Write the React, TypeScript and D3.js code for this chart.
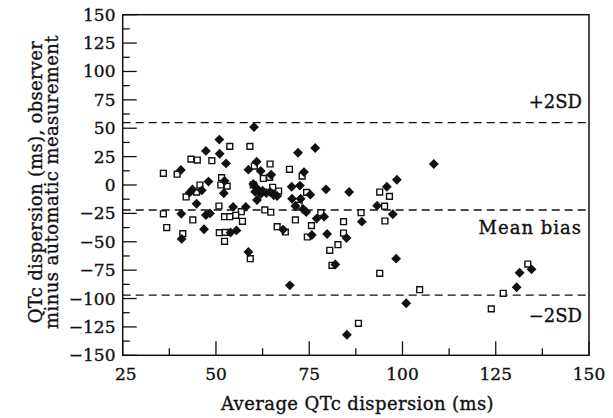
import React from "react";
import * as d3 from "d3";

// Filled diamonds: [average QTc dispersion, difference]
const diamondX = [60.2, 50.9, 47.3, 51, 52.7, 40.6, 58.7, 60.9, 62, 72, 76.6, 73.6, 48, 52.3, 43.7, 46.2, 43, 52.1, 44.8, 54.6, 58, 40.7, 47.3, 48.4, 46.8, 53.9, 55.5, 40.8, 58.7, 60, 61, 62.5, 63.5, 62, 64.5, 65.5, 60.5, 61, 66.4, 70.3, 72.5, 79.5, 85.7, 75.3, 70.4, 72.7, 71.3, 73.4, 74.2, 77, 79, 68, 75.7, 79.8, 85, 82, 69.8, 89.1, 93.2, 97.4, 95.8, 98.5, 108.4, 98.3, 101, 85.1, 130.6, 131.4, 134.6, 64.8];
const diamondY = [51, 40, 30, 27.5, 19, 13.2, 13.5, 20.5, 12.3, 28.4, 32.6, 11.4, 3, 3.5, -4, -4.7, -6.5, -7.3, -16.5, -19.3, -19.3, -25.4, -26.4, -25, -39, -41.8, -40, -47.5, -59, 0.9, -3, -5, -7, -8, -6, -9, -6, -13.2, -9.7, -1.5, -0.5, -3.8, -6.2, -8.5, -12.1, -12.1, -18.5, -21.4, -23.8, -29.6, -27.9, -39.3, -44, -43.2, -46.7, -70, -88.4, -32.3, -18.2, -25.8, -1.5, 4.6, 18.5, -64.9, -104.2, -131.9, -90.1, -77.3, -74.3, 9];

// Open squares
const squareX = [53.7, 59.1, 43.3, 45, 48.9, 35.9, 39.6, 51.5, 45.7, 51.3, 53, 42, 50.8, 56.8, 35.9, 43.8, 52.3, 53.7, 55.3, 36.8, 41.1, 50.9, 52.5, 52.3, 57.1, 59.2, 60.3, 64.5, 69.7, 73.1, 62.7, 64.4, 60, 65.2, 66.8, 74.3, 63.1, 64.7, 72.3, 78.1, 71.3, 75.6, 66.4, 68.6, 74.5, 84.2, 84.2, 82.7, 80.5, 81.1, 88.9, 93.9, 96.5, 95.2, 95.3, 93.9, 88.2, 104.6, 123.8, 127, 133.6, 44.8];
const squareY = [34, 34, 22.8, 22, 21.4, 10.3, 9.5, 6.5, 0, 0, -1, -10.5, -18.5, -23.5, -25.4, -30.8, -27.9, -27.9, -26.7, -37.5, -42.8, -42, -41.7, -49.6, -32, -64.9, 16.7, 18.5, 13.8, 7.9, 5.8, 6.8, 0.2, -2, -5.3, -6.5, -22, -24, -17.8, -24.4, -30.8, -35.8, -36.7, -41.4, -45.8, -32.3, -42.3, -52.6, -57.5, -70.7, -24.4, -6.2, -10, -18.7, -31.7, -77.8, -121.8, -92.2, -109.1, -95.4, -69.6, -6.2];

// Reference lines
const refValues = [55, -22, -97];
const refLabels = ["+2SD", "Mean bias", "\u22122SD"];

const xTicks = [25, 50, 75, 100, 125, 150];
const yTicks = [150, 125, 100, 75, 50, 25, 0, -25, -50, -75, -100, -125, -150];

const xLabel = "Average QTc dispersion (ms)";
const yLabelLines = ["QTc dispersion (ms), observer", "minus automatic measurement"];

const W = 613;
const H = 418;
const FONT = "'DejaVu Serif', 'Liberation Serif', serif";
const INK = "#111";
const TS = 0.35; // text stroke to mimic the heavier print

export default function App() {
  const x = d3.scaleLinear().domain([25, 150]).range([122.7, 589]);
  const y = d3.scaleLinear().domain([-150, 150]).range([355.3, 14.7]);
  const [x0, x1] = x.range();
  const [y0, y1] = [y(-150), y(150)];

  const diamondType: any = (d3 as any).symbolDiamond2 || d3.symbolDiamond;
  const diamondPath = d3.symbol().type(diamondType).size(62)() as string;
  const squarePath = d3.symbol().type(d3.symbolSquare).size(34)() as string;

  const fmt = (v: number) => (v < 0 ? "\u2212" + Math.abs(v) : String(v));

  const xMinor = d3.range(25, 150.01, 12.5);
  const yMinor = d3.range(-150, 150.01, 12.5);

  const labelBaselines = [y(55) - 15, y(-22) + 24.5, y(-97) + 26.5];

  const textProps = { fill: INK, stroke: INK, strokeWidth: TS };

  return (
    <svg
      width={W}
      height={H}
      style={{ position: "absolute", left: 0, top: 0, background: "#fff" }}
      fontFamily={FONT}
    >
      <rect x={0} y={0} width={W} height={H} fill="#fff" />
      {/* reference lines */}
      {refValues.map((v, i) => (
        <line
          key={"ref" + i}
          x1={x0}
          x2={x1}
          y1={y(v)}
          y2={y(v)}
          stroke={INK}
          strokeWidth={1.3}
          strokeDasharray="8,5"
        />
      ))}
      {refLabels.map((t, i) => (
        <text
          key={"rl" + i}
          x={582}
          y={labelBaselines[i]}
          textAnchor="end"
          fontSize={18}
          letterSpacing={i === 1 ? 1 : 0}
          {...textProps}
        >
          {t}
        </text>
      ))}
      {/* ticks */}
      {xMinor.map((v, i) => {
        const major = Math.abs((v - 25) % 25) < 1e-6;
        return (
          <line
            key={"xt" + i}
            x1={x(v)}
            x2={x(v)}
            y1={y0}
            y2={y0 - (major ? 14 : 7)}
            stroke={INK}
            strokeWidth={1.3}
          />
        );
      })}
      {yMinor.map((v, i) => {
        const major = Math.abs((v + 150) % 25) < 1e-6;
        return (
          <line
            key={"yt" + i}
            x1={x0}
            x2={x0 + (major ? 14 : 7)}
            y1={y(v)}
            y2={y(v)}
            stroke={INK}
            strokeWidth={1.3}
          />
        );
      })}
      {/* frame */}
      <rect x={x0} y={y1} width={x1 - x0} height={y0 - y1} fill="none" stroke={INK} strokeWidth={1.5} />
      {/* tick labels */}
      {xTicks.map((v) => (
        <text key={"xl" + v} x={x(v) + (v === 25 ? 3 : 0)} y={379.5} textAnchor="middle" fontSize={17} {...textProps}>
          {fmt(v)}
        </text>
      ))}
      {yTicks.map((v) => (
        <text key={"yl" + v} x={115.5} y={y(v) + 6} textAnchor="end" fontSize={17} {...textProps}>
          {fmt(v)}
        </text>
      ))}
      {/* axis titles */}
      <text x={357.5} y={410} textAnchor="middle" fontSize={18} letterSpacing={0.4} {...textProps}>
        {xLabel}
      </text>
      <g transform={`translate(41.5,182) rotate(-90)`}>
        <text x={0} y={0} textAnchor="middle" fontSize={18} letterSpacing={0.3} {...textProps}>
          {yLabelLines[0]}
        </text>
        <text x={0} y={16.5} textAnchor="middle" fontSize={18} letterSpacing={0.4} {...textProps}>
          {yLabelLines[1]}
        </text>
      </g>
      {/* points */}
      {squareX.map((v, i) => (
        <path
          key={"sq" + i}
          d={squarePath}
          transform={`translate(${x(v)},${y(squareY[i])})`}
          fill="#fff"
          stroke={INK}
          strokeWidth={1.4}
        />
      ))}
      {diamondX.map((v, i) => (
        <path
          key={"dm" + i}
          d={diamondPath}
          transform={`translate(${x(v)},${y(diamondY[i])})`}
          fill={INK}
        />
      ))}
    </svg>
  );
}
